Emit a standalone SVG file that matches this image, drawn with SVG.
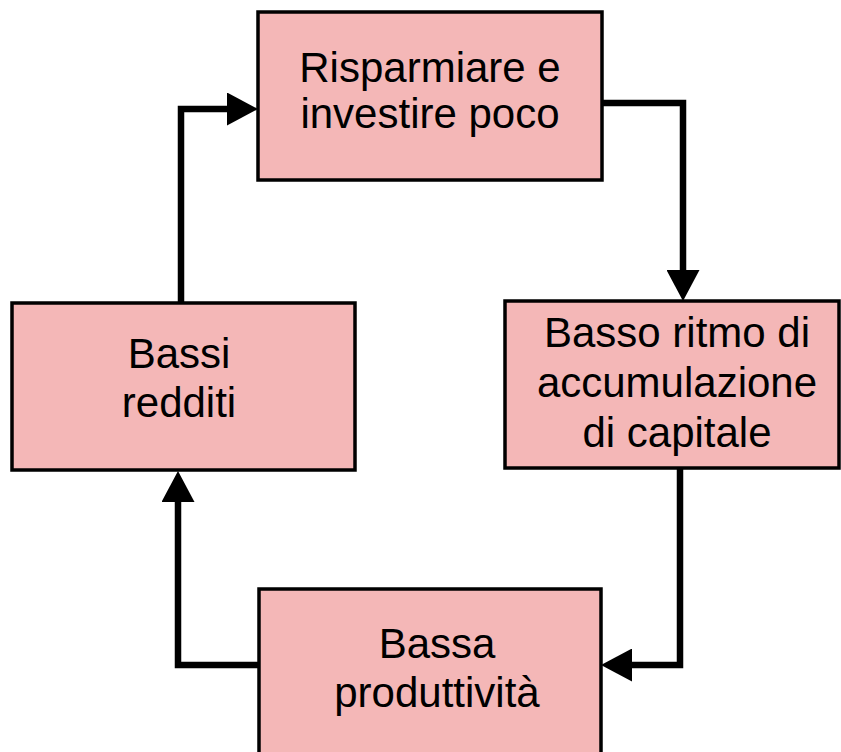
<svg xmlns="http://www.w3.org/2000/svg" width="841" height="752" viewBox="0 0 841 752">
<style>
.box{fill:#F4B7B7;stroke:#000;stroke-width:3.5}
.lbl{font-family:"Liberation Sans",Arial,sans-serif;font-size:42px;fill:#000;text-anchor:middle}
.conn{fill:none;stroke:#000;stroke-width:6.5}
</style>
<defs>
<marker id="arr" markerUnits="userSpaceOnUse" viewBox="0 0 31 33" refX="0" refY="16.5" markerWidth="31" markerHeight="33" orient="auto">
<path d="M0,0 L31,16.5 L0,33 z" fill="#000"/>
</marker>
</defs>
<rect width="841" height="752" fill="#fff"/>
<g id="connectors">
<path class="conn" d="M602,103 H683 V270" marker-end="url(#arr)"/>
<path class="conn" d="M680,468 V665 H632" marker-end="url(#arr)"/>
<path class="conn" d="M262,665 H178 V502" marker-end="url(#arr)"/>
<path class="conn" d="M181,303 V109 H227" marker-end="url(#arr)"/>
</g>
<g id="n1">
<rect class="box" x="258" y="12" width="344" height="168"/>
<text class="lbl" x="430" y="82">Risparmiare e</text>
<text class="lbl" x="430" y="128">investire poco</text>
</g>
<g id="n2">
<rect class="box" x="505" y="301" width="334" height="167"/>
<text class="lbl" x="677" y="347">Basso ritmo di</text>
<text class="lbl" x="677" y="397">accumulazione</text>
<text class="lbl" x="677" y="447">di capitale</text>
</g>
<g id="n3">
<rect class="box" x="259" y="589" width="342" height="175"/>
<text class="lbl" x="437" y="658">Bassa</text>
<text class="lbl" x="437" y="707">produttività</text>
</g>
<g id="n4">
<rect class="box" x="12" y="303" width="343" height="167"/>
<text class="lbl" x="179" y="368">Bassi</text>
<text class="lbl" x="179" y="417">redditi</text>
</g>
</svg>
